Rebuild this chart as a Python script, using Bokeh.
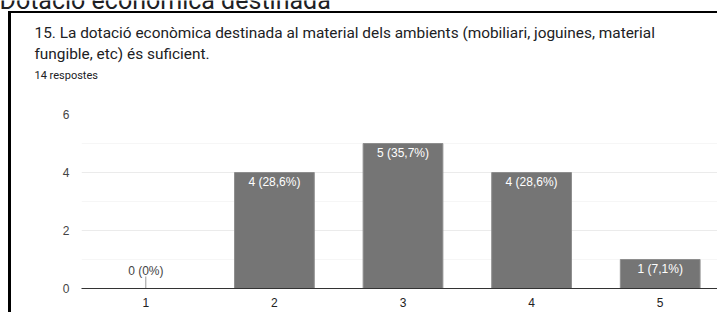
from bokeh.plotting import figure
from bokeh.models import FixedTicker, Range1d, ColumnDataSource
from bokeh.core.properties import value
from bokeh.embed import file_html
from bokeh.resources import INLINE

# ---- data ----
heading = "Dotació econòmica destinada"
question_lines = [
    "15. La dotació econòmica destinada al material dels ambients (mobiliari, joguines, material",
    "fungible, etc) és suficient.",
]
responses_text = "14 respostes"
categories = [1, 2, 3, 4, 5]
counts = [0, 4, 5, 4, 1]
bar_labels = ["0 (0%)", "4 (28,6%)", "5 (35,7%)", "4 (28,6%)", "1 (7,1%)"]
y_ticks = [0, 2, 4, 6]
y_minor = [1, 3, 5]

# ---- layout (pixels) ----
W, H = 717, 312
TOP_H = 90                      # header figure height
BOT_H = H - TOP_H               # chart figure height
FL, FR = 81, 717                # chart frame left/right (page px)
FT, FB = 114 - TOP_H, 288 - TOP_H  # chart frame top/bottom inside chart figure
PX_PER_CAT = 128.6
x_end = 0.5 + (FR - FL) / PX_PER_CAT
CARD_X, CARD_Y = 8, 11

CHART_FONT = "Liberation Sans"
TITLE_FONT = "Roboto"
TITLE_COLOR = "#202124"

# ---- header figure (texts) ----
top = figure(width=W, height=TOP_H, output_backend="svg", toolbar_location=None,
             x_range=Range1d(0, W), y_range=Range1d(TOP_H, 0),
             x_axis_type=None, y_axis_type=None,
             min_border=0, min_border_left=0, min_border_right=0,
             min_border_top=0, min_border_bottom=0)
top.outline_line_color = None
top.background_fill_color = None
top.border_fill_color = None
top.grid.visible = False
top.styles = {
    "background-color": "white",
    "background-image": "linear-gradient(#000, #000), linear-gradient(#000, #000)",
    "background-size": "3px %dpx, %dpx 2px" % (TOP_H - CARD_Y, W - CARD_X),
    "background-position": "%dpx %dpx, %dpx %dpx" % (CARD_X, CARD_Y, CARD_X, CARD_Y),
    "background-repeat": "no-repeat",
}

top.text(x=[-1], y=[-0.5], text=[heading], text_baseline="alphabetic",
         text_font=value(TITLE_FONT), text_font_size="25px", text_color=TITLE_COLOR)
top.text(x=[34, 34], y=[32.5, 53.5], text=question_lines, text_baseline="alphabetic",
         text_font=value(TITLE_FONT), text_font_size="15.4px", text_color=TITLE_COLOR)
top.text(x=[34], y=[75], text=[responses_text], text_baseline="alphabetic",
         text_font=value(TITLE_FONT), text_font_size="11px", text_color=TITLE_COLOR)

# ---- chart figure ----
p = figure(width=W, height=BOT_H, output_backend="svg", toolbar_location=None,
           x_range=Range1d(0.5, x_end), y_range=Range1d(0, 6),
           min_border_left=FL, min_border_right=W - FR,
           min_border_top=FT, min_border_bottom=BOT_H - FB)
p.outline_line_color = None
p.background_fill_color = "white"
p.border_fill_color = None
p.styles = {
    "background-color": "white",
    "background-image": "linear-gradient(#000, #000)",
    "background-size": "3px 100%",
    "background-position": "%dpx 0px" % CARD_X,
    "background-repeat": "no-repeat",
}

p.yaxis.ticker = FixedTicker(ticks=y_ticks, minor_ticks=y_minor)
p.yaxis.axis_line_color = None
p.yaxis.major_tick_line_color = None
p.yaxis.major_tick_out = 0
p.yaxis.major_tick_in = 0
p.yaxis.minor_tick_line_color = None
p.yaxis.minor_tick_out = 0
p.yaxis.major_label_text_font = CHART_FONT
p.yaxis.major_label_text_font_size = "12px"
p.yaxis.major_label_text_color = "#444444"
p.yaxis.major_label_standoff = 12

p.xaxis.ticker = FixedTicker(ticks=categories)
p.xaxis.axis_line_color = "#333333"
p.xaxis.axis_line_width = 1
p.xaxis.major_tick_line_color = None
p.xaxis.major_tick_out = 0
p.xaxis.major_tick_in = 0
p.xaxis.minor_tick_line_color = None
p.xaxis.minor_tick_out = 0
p.xaxis.major_label_text_font = CHART_FONT
p.xaxis.major_label_text_font_size = "12px"
p.xaxis.major_label_text_color = "#222222"
p.xaxis.major_label_standoff = 9

p.ygrid.ticker = FixedTicker(ticks=y_ticks, minor_ticks=y_minor)
p.ygrid.grid_line_color = "#ebebeb"
p.ygrid.minor_grid_line_color = "#f6f6f6"
p.xgrid.ticker = FixedTicker(ticks=[0.5])
p.xgrid.grid_line_color = "#ebebeb"

src = ColumnDataSource(dict(x=categories, top=counts, label=bar_labels))
p.vbar(x="x", top="top", width=0.62, source=src,
       fill_color="#757575", line_color="#8e8e8e", line_width=1)

pos_x = [c for c, v in zip(categories, counts) if v > 0]
pos_y = [v for v in counts if v > 0]
pos_l = [l for l, v in zip(bar_labels, counts) if v > 0]
p.text(x=pos_x, y=pos_y, text=pos_l, text_align="center", text_baseline="middle",
       y_offset=9, text_color="white", text_font=value(CHART_FONT), text_font_size="12px")

zero_x = [c for c, v in zip(categories, counts) if v == 0]
zero_y = [v for v in counts if v == 0]
zero_l = [l for l, v in zip(bar_labels, counts) if v == 0]
STEM = 12 * 6 / (FB - FT)  # 12 px annotation stem, in data units
p.segment(x0=zero_x, y0=zero_y, x1=zero_x, y1=[y + STEM for y in zero_y],
          line_color="#999999", line_width=1)
p.text(x=zero_x, y=zero_y, text=zero_l, text_align="center", text_baseline="middle",
       y_offset=-18, text_color="#444444", text_font=value(CHART_FONT), text_font_size="12px")

open("out.html", "w").write(file_html((top, p), INLINE))
